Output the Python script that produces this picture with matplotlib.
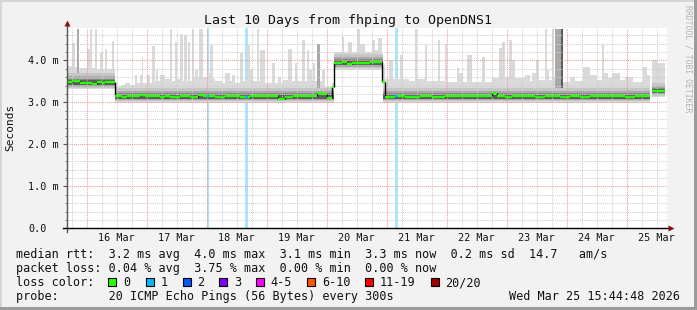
import numpy as np
import matplotlib
matplotlib.use("Agg")
import matplotlib.pyplot as plt
import matplotlib.transforms as mtransforms
from matplotlib.patches import Rectangle

nan = np.nan

# ---------------- data ----------------
# time: hours since the start of the 10-day window; values in milliseconds
HOURS_SPAN = 240.0
FIRST_MIDNIGHT_H = 7.88          # 16 Mar 00:00
day_labels = ["16 Mar", "17 Mar", "18 Mar", "19 Mar", "20 Mar",
              "21 Mar", "22 Mar", "23 Mar", "24 Mar", "25 Mar"]
y_tick_values = [0, 1, 2, 3, 4]
y_tick_labels = ["0.0", "1.0 m", "2.0 m", "3.0 m", "4.0 m"]

# median rtt (step series: value holds from start until next start)
median_start_h = [0, 2, 5.2, 6.4, 8, 10, 12, 14, 15.2,
                  19.2, 22, 24, 29.2, 31.2, 37.2, 39.2, 41.2, 45.2, 49.2,
                  52.4, 54.4, 59.2, 63.2, 69.2, 73.2, 77.2, 80, 84.4, 87.2,
                  90.4, 100, 102, 104, 106, 106.8, 110, 112, 114, 119.2,
                  121.2, 124, 126, 127.2, 131.2, 135.2, 141.2, 146, 151.2, 157.2,
                  170, 172, 175.2, 176.4, 178, 187.2, 191.2, 197.2, 201.2, 205.2,
                  209.2, 213.2, 219.2, 223.2, 227.2, 231.2, 233.2, 234, 239.2]
median_ms = [3.48, 3.50, 3.46, 3.47, 3.45, 3.44, 3.48, 3.45, 3.48,
             3.15, 3.12, 3.14, 3.17, 3.14, 3.12, 3.15, 3.13, 3.15, 3.13,
             3.17, 3.14, 3.12, 3.15, 3.13, 3.15, 3.14, 3.15, 3.09, 3.13,
             3.15, 3.22, 3.20, 3.10, 3.37, 3.93, 3.95, 3.92, 3.94, 3.93,
             3.95, 3.96, 3.49, 3.13, 3.15, 3.13, 3.15, 3.12, 3.14, 3.15,
             3.21, 3.15, 3.13, 3.12, 3.15, 3.13, 3.15, 3.13, 3.15, 3.12,
             3.14, 3.15, 3.14, 3.12, 3.14, 3.15, nan, 3.27]

# highest ping per period (light smoke tops and spikes)
max_start_h = [0, 2, 3.2, 4, 4.8, 8, 9.2, 10, 11.2, 12, 13.2, 14.4, 15.2, 16, 18, 18.8,
               19.2, 20, 21.6, 23.2, 25.2, 27.2, 28, 29.2, 30, 30.4, 32, 33.2, 34, 35.2,
               35.6, 36.4, 37.2, 39.2, 41.2, 42, 43.2, 44, 45.2, 46.4, 46.8, 48, 48.4,
               49.2, 50, 50.8, 51.2, 52.4, 52.8, 54.4, 56, 57.2, 58.4, 59.2, 62, 63.2,
               65.2, 66, 67.2, 69.2, 70.4, 72, 73.2, 74.4, 76, 76.8, 77.2, 79.2, 81.2,
               82, 83.2, 84.4, 85.6, 86.4, 88.4, 90, 91.2, 92, 94, 95.2, 96, 96.8, 98,
               98.4, 99.2, 100, 101.2, 102, 103.2, 106,
               106.8, 110, 110.8, 112.4, 114, 116, 117.2, 119.2, 122, 123.2, 124.4,
               126, 127.2, 128.8, 130.4, 133.2, 134.4, 136.8, 139.2, 140, 143.2, 144,
               148.4, 149.2, 151.2, 152, 156, 156.8, 158.4, 160, 162, 166, 167.2, 170,
               172.8, 174, 175.2, 176.8, 178, 179.2, 183.2, 185.2, 186, 187.6, 188.8,
               191.2, 192, 192.8, 194, 194.8, 195.2, 198.4, 201.2, 203.2, 206.4, 209.2,
               212, 214, 214.8, 216.4, 218, 221.2, 223.2, 226.4, 230.4, 232, 233.2,
               234, 236, 239.2]
max_ms = [3.86, 4.42, 3.85, 4.74, 3.82, 4.26, 4.74, 3.82, 4.74, 3.80, 4.17, 3.80, 4.26, 3.80, 4.46, 3.80,
          3.45, 3.37, 3.42, 3.47, 3.42, 3.65, 3.45, 3.65, 4.09, 3.45, 3.65, 3.45, 4.34, 3.50,
          3.77, 3.50, 3.65, 3.55, 4.74, 3.50, 4.44, 3.55, 4.63, 3.50, 4.60, 3.50, 4.44,
          3.50, 4.74, 3.60, 3.77, 3.60, 4.74, 3.60, 3.70, 4.36, 3.55, 3.50, 3.45, 3.69,
          3.50, 3.65, 3.47, 4.17, 3.50, 4.36, 3.77, 3.50, 4.74, 3.50, 4.25, 3.47, 3.45,
          3.93, 3.45, 3.61, 3.45, 3.53, 4.26, 3.50, 3.93, 3.50, 4.48, 3.50, 4.25, 3.77, 3.50,
          3.93, 3.50, 4.40, 3.50, 3.77, 3.37, 3.45,
          4.20, 4.56, 4.20, 4.44, 4.20, 4.74, 4.40, 4.20, 4.48, 4.25, 4.52,
          3.90, 3.55, 4.00, 3.55, 4.13, 3.55, 3.50, 4.74, 3.55, 4.36, 3.50,
          4.48, 3.50, 4.40, 3.49, 3.81, 3.69, 3.49, 4.13, 3.49, 4.09, 3.49, 3.57,
          4.29, 4.44, 3.60, 4.48, 4.00, 3.57, 3.65, 3.50, 3.69, 4.00, 3.53,
          4.74, 3.77, 3.53, 4.74, 3.60, 4.74, 3.49, 3.61, 3.50, 3.85, 3.65,
          3.53, 4.40, 3.69, 3.57, 3.69, 3.53, 3.61, 3.49, 3.85, 3.65, nan,
          4.00, 3.93]

# smoke percentiles per regime
band_start_h = [0, 19.2, 106.8, 126.4, 233.2, 234, 239.2]
band_min_ms = [3.31, 2.99, 3.77, 2.99, nan, 3.12]
band_p10_ms = [3.34, 3.03, 3.81, 3.03, nan, 3.16]
band_p25_ms = [3.37, 3.06, 3.85, 3.06, nan, 3.19]
band_p40_ms = [3.41, 3.09, 3.89, 3.09, nan, 3.22]
band_p60_ms = [3.52, 3.18, 3.98, 3.18, nan, 3.31]
band_p75_ms = [3.56, 3.21, 4.03, 3.21, nan, 3.35]
band_p90_ms = [3.62, 3.26, 4.08, 3.26, nan, 3.40]
band_p95_ms = [3.69, 3.33, 4.14, 3.33, nan, 3.47]

# periods where several pings were high (darker spikes)
high_start_h = [4.0, 100.0, 195.2, 197.6]
high_end_h = [4.8, 101.2, 197.6, 198.4]
high_ms = [4.74, 4.40, 4.74, 4.74]
high_depth = [1, 1, 1, 3]

# packet loss events (1 of 20 pings lost)
loss_start_h = [55.9, 71.2, 131.2]
loss_end_h = [56.9, 72.2, 132.2]
loss_pings = [1, 1, 1]

loss_color_labels = ["0", "1", "2", "3", "4-5", "6-10", "11-19", "20/20"]
loss_colors = ["#26ff00", "#00b8ff", "#0059ff", "#7e00ff",
               "#ff00ff", "#ff5500", "#ff0000", "#a10000"]

legend_rows = [
    "median rtt:  3.2 ms avg  4.0 ms max  3.1 ms min  3.3 ms now  0.2 ms sd  14.7   am/s",
    "packet loss: 0.04 % avg  3.75 % max  0.00 % min  0.00 % now",
    "loss color:",
    "probe:       20 ICMP Echo Pings (56 Bytes) every 300s",
]
timestamp = "Wed Mar 25 15:44:48 2026"
title = "Last 10 Days from fhping to OpenDNS1"

# ---------------- figure ----------------
W, H = 697, 310
MONO = "DejaVu Sans Mono"
fig = plt.figure(figsize=(W / 100, H / 100), dpi=100)
fig.patch.set_facecolor("#f2f2f2")

def fx(px):
    return px / W

def fy(py):
    return 1 - py / H

ax = fig.add_axes([fx(67), fy(228.3), 600 / W, 200.3 / H])
ax.set_facecolor("white")
ax.set_xlim(0, HOURS_SPAN)
ax.set_ylim(0, 200.3 / 42.0)
for s in ax.spines.values():
    s.set_visible(False)

# ---- step helpers ----
edges = np.unique(np.concatenate([median_start_h, max_start_h, band_start_h,
                                  high_start_h, high_end_h]))
edges = edges[edges <= 239.2]
mids = 0.5 * (edges[:-1] + edges[1:])

def step_at(starts, vals, x):
    starts = np.asarray(starts, float)
    vals = np.asarray(vals, float)
    idx = np.clip(np.searchsorted(starts, x, side="right") - 1, 0, len(vals) - 1)
    return vals[idx]

xs = np.repeat(edges, 2)[1:-1]

def stepped(starts, vals):
    return np.repeat(step_at(starts, vals, mids), 2)

# ---- loss bars ----
for a, b, n in zip(loss_start_h, loss_end_h, loss_pings):
    ax.axvspan(a, b, color=loss_colors[n], alpha=0.35, lw=0, zorder=1)

# ---- smoke ----
band_lo = stepped(band_start_h, band_min_ms)
max_series = stepped(max_start_h, max_ms)
ax.fill_between(xs, band_lo, max_series, color="#dadada", lw=0, zorder=2)

layer_colors = ["#c6c6c6", "#a9a9a9", "#878787", "#5c5c5c"]
for a, b, top, d in zip(high_start_h, high_end_h, high_ms, high_depth):
    base = step_at(band_start_h, band_p95_ms, [0.5 * (a + b)])[0]
    ax.fill_between([a, b], [base, base], [top, top], color=layer_colors[d], lw=0, zorder=2.1)

layers = [(band_p10_ms, band_p95_ms), (band_p25_ms, band_p90_ms),
          (band_p40_ms, band_p75_ms), (band_p40_ms, band_p60_ms)]
for (lo, hi), c in zip(layers, layer_colors):
    ax.fill_between(xs, stepped(band_start_h, lo), stepped(band_start_h, hi),
                    color=c, lw=0, zorder=2.2)

# ---- grid ----
dots = (0, (1, 1))
for v in np.arange(0.2, 4.8, 0.2):
    if abs(v - round(v)) > 1e-6:
        ax.axhline(v, color="#cfcfcf", lw=0.75, ls=dots, zorder=4)
for h in np.arange(FIRST_MIDNIGHT_H - 6, HOURS_SPAN, 6):
    if abs(((h - FIRST_MIDNIGHT_H) / 24) - round((h - FIRST_MIDNIGHT_H) / 24)) > 1e-6:
        ax.axvline(h, color="#cfcfcf", lw=0.75, ls=dots, zorder=4)
for v in [1, 2, 3, 4]:
    ax.axhline(v, color="#f09a9a", lw=0.75, ls=dots, zorder=4)
for k in range(len(day_labels)):
    ax.axvline(FIRST_MIDNIGHT_H + 24 * k, color="#f09a9a", lw=0.75, ls=dots, zorder=4)

# ---- median line ----
ms = np.asarray(median_ms, float)
st = np.asarray(median_start_h, float)
for i in range(1, len(ms)):
    if np.isfinite(ms[i]) and np.isfinite(ms[i - 1]) and ms[i] != ms[i - 1]:
        ax.vlines(st[i], min(ms[i], ms[i - 1]), max(ms[i], ms[i - 1]),
                  color="black", lw=1.0, zorder=5)
ok = np.isfinite(ms)
ax.hlines(ms[ok], st[:-1][ok], st[1:][ok], color=loss_colors[0], lw=1.7, zorder=6)
for a, b, n in zip(loss_start_h, loss_end_h, loss_pings):
    m = step_at(median_start_h, median_ms, [0.5 * (a + b)])[0]
    ax.hlines(m, a, b, color=loss_colors[n], lw=1.7, zorder=6.5)

# ---- axes lines and arrows ----
ax.plot([0, 0], [-0.08, 4.86], color="#555555", lw=1.0, clip_on=False, zorder=7)
ax.plot([-1.7, 241.0], [0, 0], color="black", lw=1.0, clip_on=False, zorder=7)
ax.plot([0], [4.89], marker="^", ms=4.2, color="#8b1111", clip_on=False, zorder=8, mec="none")
ax.plot([241.5], [0], marker=">", ms=4.2, color="#8b1111", clip_on=False, zorder=8, mec="none")

ax.set_yticks(y_tick_values)
ax.set_yticks(np.arange(0.2, 4.8, 0.2), minor=True)
ax.set_yticklabels([])
ax.set_xticks([])
ax.tick_params(axis="y", which="major", length=3, width=0.8, color="#555555")
ax.tick_params(axis="y", which="minor", length=1.5, width=0.7, color="#777777")

# ---- tick labels ----
ytr = mtransforms.offset_copy(
    mtransforms.blended_transform_factory(fig.transFigure, ax.transData),
    fig=fig, y=-3.7, units="dots")
for v, lab in zip(y_tick_values, y_tick_labels):
    fig.text(fx(28), v, lab, transform=ytr, ha="left", va="baseline",
             family=MONO, fontsize=7.3, color="#111111")
xtr = mtransforms.blended_transform_factory(ax.transData, fig.transFigure)
for k, lab in enumerate(day_labels):
    ax.text(FIRST_MIDNIGHT_H + 12 + 24 * k, fy(240.7), lab, transform=xtr,
            ha="center", va="baseline", family=MONO, fontsize=7.3, color="#111111")

# ---- titles ----
fig.text(fx(348.5), fy(24), title, ha="center", va="baseline",
         family=MONO, fontsize=9.5, color="#111111")
fig.text(fx(10), fy(127), "Seconds", rotation=90, ha="center", va="center",
         family=MONO, fontsize=8, color="#111111")
fig.text(fx(688), fy(59), "RRDTOOL / TOBI OETIKER", rotation=270, ha="center",
         va="center", family=MONO, fontsize=5.9, color="#b4b4b4")

# ---- legend ----
row_base = [258, 272, 286, 300]
for txt, yb in zip(legend_rows, row_base):
    fig.text(fx(16), fy(yb), txt, ha="left", va="baseline", family=MONO,
             fontsize=8.5, color="#111111")
box_x = [108.3, 145.7, 182.7, 219.3, 256, 307.3, 365, 430.7]
for bx, c, lab in zip(box_x, loss_colors, loss_color_labels):
    fig.patches.append(Rectangle((fx(bx), fy(286)), 8 / W, 8 / H,
                                 transform=fig.transFigure, facecolor=c,
                                 edgecolor="black", lw=0.8))
    fig.text(fx(bx + 14.5), fy(286), lab, ha="left", va="baseline",
             family=MONO, fontsize=8.5, color="#111111")
fig.text(fx(680), fy(300), timestamp, ha="right", va="baseline",
         family=MONO, fontsize=8.5, color="#111111")

# ---- frame ----
for (x0, y0, w, h, c) in [(0, 0, W, 2, "#d6d6d6"), (0, 0, 2, H, "#d6d6d6"),
                          (W - 3, 0, 3, H, "#9b9b9b"), (0, H - 3, W, 3, "#9b9b9b")]:
    fig.patches.append(Rectangle((fx(x0), fy(y0 + h)), w / W, h / H,
                                 transform=fig.transFigure, facecolor=c, lw=0))

fig.savefig("out.png", dpi=100, facecolor=fig.get_facecolor())
